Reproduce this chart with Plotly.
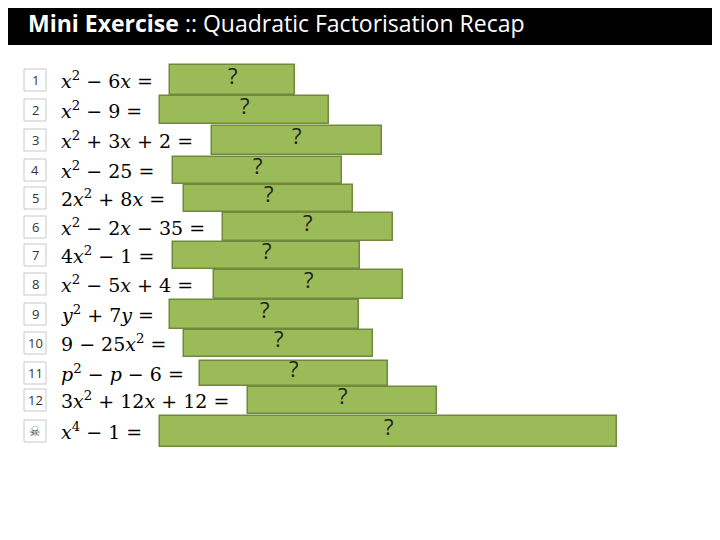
import plotly.graph_objects as go

# slide rows
labels = ["1", "2", "3", "4", "5", "6", "7", "8", "9", "10", "11", "12", "☠"]
expressions = [
    "<i>x</i><sup>2</sup> − 6<i>x</i> =",
    "<i>x</i><sup>2</sup> − 9 =",
    "<i>x</i><sup>2</sup> + 3<i>x</i> + 2 =",
    "<i>x</i><sup>2</sup> − 25 =",
    "2<i>x</i><sup>2</sup> + 8<i>x</i> =",
    "<i>x</i><sup>2</sup> − 2<i>x</i> − 35 =",
    "4<i>x</i><sup>2</sup> − 1 =",
    "<i>x</i><sup>2</sup> − 5<i>x</i> + 4 =",
    "<i>y</i><sup>2</sup> + 7<i>y</i> =",
    "9 − 25<i>x</i><sup>2</sup> =",
    "<i>p</i><sup>2</sup> − <i>p</i> − 6 =",
    "3<i>x</i><sup>2</sup> + 12<i>x</i> + 12 =",
    "<i>x</i><sup>4</sup> − 1 =",
]
row_y = [80, 110, 140, 170, 198, 227, 255, 284, 314, 343, 373, 400, 431]
box_start = [170, 160, 212, 173, 184, 223, 173, 214, 170, 184, 200, 248, 160]
box_end = [295, 329, 382, 342, 353, 393, 360, 403, 359, 373, 388, 437, 617]
box_height = [30, 28, 29, 27, 27, 28, 27, 29, 29, 27, 25, 27, 31]

GREEN = "#9BBB59"
EDGE = "#71893F"

fig = go.Figure()
fig.add_trace(go.Bar(
    orientation="h",
    y=row_y,
    x=[e - s for s, e in zip(box_start, box_end)],
    base=box_start,
    width=box_height,
    marker=dict(color=GREEN, line=dict(color=EDGE, width=1.5)),
    hoverinfo="skip",
))

# title band
fig.add_shape(type="rect", x0=-20, x1=740, y0=-20, y1=45, fillcolor="black", line_width=0, layer="below")
fig.add_annotation(x=26, y=23, xanchor="left", yanchor="middle", showarrow=False,
                   text="<b>Mini Exercise</b> :: Quadratic Factorisation Recap",
                   font=dict(family="Open Sans", size=23, color="white"))

for lab, ex, y, s, e in zip(labels, expressions, row_y, box_start, box_end):
    fig.add_shape(type="rect", x0=24, x1=46, y0=y - 11, y1=y + 11,
                  fillcolor="white", line=dict(color="#C8C8C8", width=1))
    fig.add_annotation(x=35, y=y, showarrow=False, text=lab,
                       font=dict(family="Open Sans", size=13, color="#333"))
    fig.add_annotation(x=59, y=y, xanchor="left", showarrow=False, text=ex,
                       font=dict(family="DejaVu Serif", size=19, color="black"))
    fig.add_annotation(x=(s + e) / 2, y=y - 5, showarrow=False, text="?",
                       font=dict(family="Open Sans", size=22, color="#222"))

# the page puts the plot 8px in from the top-left corner, so shift the ranges to match
fig.update_layout(
    width=720, height=540,
    margin=dict(l=0, r=0, t=0, b=0),
    paper_bgcolor="white", plot_bgcolor="white",
    showlegend=False, bargap=0,
    xaxis=dict(range=[8, 728], visible=False, fixedrange=True),
    yaxis=dict(range=[548, 8], visible=False, fixedrange=True),
)

fig.write_html("out.html")
